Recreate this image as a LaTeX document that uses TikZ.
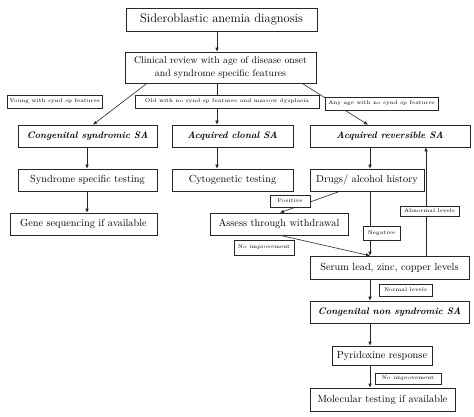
\documentclass[tikz,border=0pt]{standalone}
\usetikzlibrary{arrows.meta}
\begin{document}
\begin{tikzpicture}[x=1pt,y=-1pt,
  box/.style={draw=black!85, fill=white, inner sep=0pt, align=center, line width=0.6pt},
  bigtxt/.style={box, font=\fontsize{12.5}{14}\selectfont},
  midtxt/.style={box, font=\fontsize{9.8}{12.5}\selectfont},
  cattxt/.style={box, font=\fontsize{9.4}{11}\selectfont\bfseries\itshape},
  stepbox/.style={box, font=\fontsize{10.3}{12}\selectfont},
  lbl/.style={box, line width=0.4pt, font=\fontsize{5.3}{6.5}\selectfont},
  arr/.style={draw=black!85, line width=0.6pt, -{Latex[length=4pt,width=3.5pt]}},
  ln/.style={draw=black!85, line width=0.6pt}]
\useasboundingbox (0,0) rectangle (474,417);
% columns
\coordinate (colL) at (87,0);
\coordinate (colM) at (217,0);
\coordinate (colR) at (370,0);
\coordinate (colA) at (426,0);
% main nodes
\node[bigtxt, minimum width=191pt, minimum height=23pt] (title) at (221.5,19.5) {Sideroblastic anemia diagnosis};
\node[midtxt, minimum width=191pt, minimum height=31pt] (clin) at (220.5,67.5) {Clinical review with age of disease onset\\and syndrome specific features};
\node[cattxt, minimum width=139pt, minimum height=22pt] (cs) at (87.5,136) {Congenital syndromic SA};
\node[cattxt, minimum width=121pt, minimum height=22pt] (ac) at (232.5,136) {Acquired clonal SA};
\node[cattxt, minimum width=160pt, minimum height=22pt] (ar) at (390,136) {Acquired reversible SA};
\node[stepbox, minimum width=139pt, minimum height=22pt] (sst) at (87.5,180) {Syndrome specific testing};
\node[stepbox, minimum width=121pt, minimum height=22pt] (cyt) at (232.5,180) {Cytogenetic testing};
\node[stepbox, minimum width=114pt, minimum height=22pt] (drugs) at (367,180) {Drugs/ alcohol history};
\node[stepbox, minimum width=147pt, minimum height=22pt] (gene) at (83.5,224) {Gene sequencing if available};
\node[stepbox, minimum width=138pt, minimum height=22pt] (assess) at (279,224) {Assess through withdrawal};
\node[stepbox, minimum width=159pt, minimum height=23pt] (serum) at (389.5,267.5) {Serum lead, zinc, copper levels};
\node[cattxt, minimum width=159pt, minimum height=22pt] (cns) at (389.5,312) {Congenital non syndromic SA};
\node[stepbox, minimum width=100pt, minimum height=19pt] (pyr) at (382,355.5) {Pyridoxine response};
\node[stepbox, minimum width=145pt, minimum height=23pt] (mol) at (382.5,399.5) {Molecular testing if available};
% connectors
\draw[arr] (title.south -| colM) -- (clin.north -| colM);
\draw[arr] ([xshift=-73.5pt]clin.south) -- ([xshift=5.5pt]cs.north);
\draw[arr] (clin.south -| colM) -- (ac.north -| colM);
\draw[arr] ([xshift=81.5pt]clin.south) -- ([xshift=-22pt]ar.north);
\draw[arr] (cs.south -| colL) -- (sst.north -| colL);
\draw[arr] (sst.south -| colL) -- (gene.north -| colL);
\draw[arr] (ac.south -| colM) -- (cyt.north -| colM);
\draw[arr] (ar.south -| colR) -- (drugs.north -| colR);
\draw[arr] ([xshift=-27pt]drugs.south) -- ([xshift=1pt]assess.north);
\draw[arr] (drugs.south -| colR) -- (serum.north -| colR);
\draw[arr] ([xshift=1pt]assess.south) -- (serum.north -| colR);
\draw[arr] (serum.north -| colA) -- (ar.south -| colA);
\draw[arr] (serum.south -| colR) -- (cns.north -| colR);
\draw[arr] (cns.south -| colR) -- (pyr.north -| colR);
\draw[arr] (pyr.south -| colR) -- (mol.north -| colR);
% labels
\node[lbl, minimum width=95pt, minimum height=13pt] (lyoung) at (54.5,101.5) {Young with synd sp features};
\node[lbl, minimum width=184pt, minimum height=13pt] (lold) at (227,101.5) {Old with no synd sp features and marrow dysplasia};
\node[lbl, minimum width=113pt, minimum height=13pt] (lany) at (381.5,103.5) {Any age with no synd sp features};
\node[lbl, minimum width=40pt, minimum height=12pt] (lpos) at (290,201) {Positive};
\node[lbl, minimum width=37pt, minimum height=14pt] (lneg) at (381.5,233) {Negative};
\node[lbl, minimum width=59pt, minimum height=10pt] (labn) at (429.5,211) {Abnormal levels};
\node[lbl, minimum width=60pt, minimum height=15pt] (lnoimp) at (264,247.5) {No improvement};
\node[lbl, minimum width=53pt, minimum height=12pt] (lnorm) at (405.5,290) {Normal levels};
\node[lbl, minimum width=66pt, minimum height=11pt] (lnoimpb) at (408,378.5) {No improvement};
\end{tikzpicture}
\end{document}
